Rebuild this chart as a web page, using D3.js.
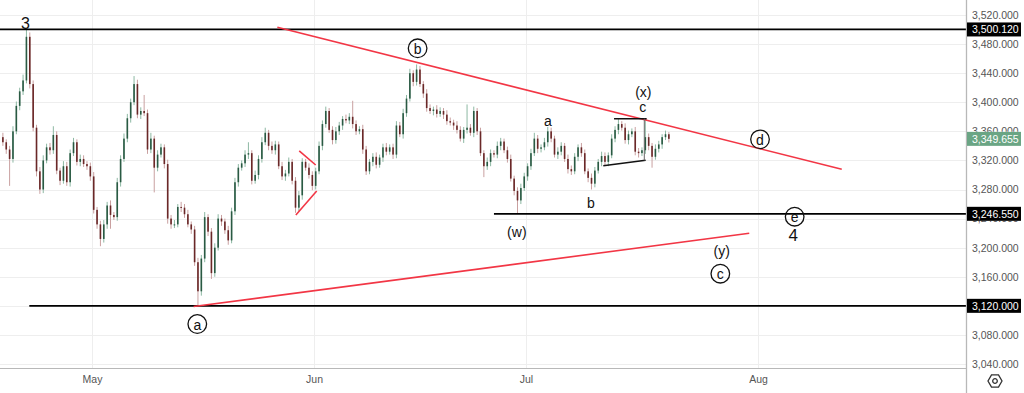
<!DOCTYPE html>
<html><head><meta charset="utf-8">
<script src="https://cdn.jsdelivr.net/npm/d3@7"></script>
<style>body{margin:0;background:#fff;overflow:hidden} svg{display:block}</style>
</head><body>
<svg id="chart" width="1024" height="393"></svg>
<script>
// ---------- DATA ----------
const firstOpen = 3352;
const closes = [
3345,3335,3322,3360,3395,3415,3430,3490,3425,3365,
3305,3280,3320,3338,3334,3355,3306,3292,3312,3290,
3330,3345,3318,3322,3315,3312,3298,3252,3232,3212,
3232,3258,3245,3242,3290,3322,3350,3378,3400,3425,
3383,3388,3385,3335,3350,3310,3328,3338,3315,3240,
3232,3232,3256,3255,3246,3232,3225,3180,3140,3185,
3242,3222,3165,3200,3240,3236,3224,3210,3250,3290,
3310,3316,3328,3330,3292,3300,3322,3345,3358,3340,
3334,3342,3312,3298,3302,3318,3292,3255,3272,3318,
3310,3300,3285,3305,3340,3370,3388,3362,3348,3360,
3368,3377,3375,3380,3370,3360,3363,3335,3305,3318,
3325,3314,3324,3338,3332,3338,3328,3368,3356,3385,
3405,3440,3428,3445,3425,3412,3392,3388,3390,3384,
3388,3383,3374,3372,3368,3362,3350,3362,3365,3358,
3388,3360,3330,3312,3318,3330,3328,3340,3346,3334,
3322,3295,3278,3265,3282,3298,3312,3330,3350,3336,
3338,3345,3360,3350,3328,3332,3340,3322,3308,3305,
3325,3338,3330,3305,3296,3288,3306,3318,3326,3318,
3327,3350,3362,3370,3365,3348,3356,3360,3332,3330,
3334,3352,3340,3325,3336,3342,3352,3356,3349.655
];
const upWick = [
6,4,5,7,6,5,8,10,6,5, 4,6,7,5,6,12,5,4,7,6, 5,6,4,6,5,4,5,6,4,5,
6,5,7,4,6,5,7,6,5,11, 6,5,22,5,8,4,6,5,4,6, 5,6,4,7,5,6,4,5,6,5,
7,4,5,6,6,5,4,6,5,6, 5,4,6,15,4,6,5,7,7,4, 6,5,4,6,5,6,4,5,6,5,
4,6,5,5,6,5,6,4,5,6, 5,4,6,5,22,5,4,6,5,4, 5,6,4,5,6,4,5,6,5,6,
5,6,4,7,5,4,6,5,4,6, 5,4,6,5,4,6,5,4,32,5, 6,4,5,4,6,5,4,6,5,4,
5,6,4,5,6,5,4,6,8,5, 4,6,6,5,4,6,5,4,6,5, 5,4,6,5,4,6,5,4,6,5,
4,6,5,7,4,6,5,4,6,5, 4,24,5,4,6,5,4,5,3
];
const downWick = [
5,6,37,5,4,6,5,4,6,5, 7,6,5,4,6,5,5,6,4,5, 6,4,5,6,4,5,6,5,6,10,
5,6,19,4,5,6,4,5,6,4, 5,6,4,6,5,34,5,4,6,7, 6,5,4,6,5,4,6,5,19,6,
5,6,8,5,4,6,5,6,4,5, 6,4,5,6,5,4,6,5,4,6, 5,6,4,5,6,4,5,7,5,6,
4,5,6,5,4,6,5,4,6,5, 5,6,4,5,6,5,4,6,5,4, 6,5,4,6,5,4,6,5,4,6,
5,4,6,5,4,6,5,4,6,5, 4,6,5,4,6,5,4,6,5,4, 6,5,4,15,5,6,4,5,6,4,
5,4,6,18,5,4,6,5,4,6, 5,4,6,5,4,6,5,4,6,5, 4,6,5,4,6,8,5,4,6,5,
6,4,5,6,4,5,6,4,5,6, 4,5,6,15,4,5,6,4,5
];
const monthLabels = ["May","Jun","Jul","Aug"];
const monthBars = [27, 93, 156, 225];
const priceTicks = [3040,3080,3120,3160,3200,3240,3280,3320,3360,3400,3440,3480,3520];
const levelPrices = [3500.12, 3246.55, 3120.0];
const levelStartBars = [-0.4, 146.5, 8.35];
const lastPrice = 3349.655;
// trend lines: [bar1, price1, bar2, price2]
const redLines = [
  [82.1, 3503.1, 249.9, 3307.8],
  [57.2, 3119.0, 222.4, 3219.8],
  [88.6, 3333.0, 93.5, 3313.7],
  [87.6, 3245.0, 93.8, 3278.0]
];
const blackLines = [
  [182.2, 3377.4, 191.9, 3377.4],
  [179.0, 3312.7, 191.6, 3320.2]
];
const greyLines = [[191.2, 3377.4, 191.2, 3320.0]];
const circleLabels = ["a","b","c","d","e"];
const circleBars = [58.3, 123.8, 213.8, 225.6, 235.9];
const circlePrices = [3095, 3474.2, 3164.2, 3349, 3242.6];
const textLabels = ["3","(x)","c","a","b","(w)","(y)","4"];
const textBars = [7.2, 190.9, 190.7, 162.5, 175.3, 153.3, 214.2, 235.5];
const textPrices = [3508.5, 3414.5, 3393, 3374.6, 3261.9, 3221.1, 3195.4, 3217.4];
const textSizes = [16, 14, 14, 14, 14, 14, 14, 17];

// ---------- LAYOUT ----------
const W = 1024, H = 393, plotR = 966, plotB = 368;
const svg = d3.select("#chart");
const x = d3.scaleLinear().domain([0, 225]).range([1.2, 758]);
const y = d3.scaleLinear().domain([3040, 3520]).range([364, 15]);
const font = "'Liberation Sans', Arial, sans-serif";
const fmt = d3.format(",.3f");

svg.append("rect").attr("width", W).attr("height", H).attr("fill", "#fff");
const defs = svg.append("defs");
defs.append("clipPath").attr("id", "clip")
  .append("rect").attr("x", 0).attr("y", 0).attr("width", plotR).attr("height", plotB);

// grid
const grid = svg.append("g");
grid.selectAll("line.h").data(priceTicks).join("line")
  .attr("x1", 0).attr("x2", plotR).attr("y1", d => Math.round(y(d)) + 0.5).attr("y2", d => Math.round(y(d)) + 0.5)
  .attr("stroke", "#eeeeee").attr("stroke-width", 1);
grid.selectAll("line.v").data(monthBars).join("line")
  .attr("y1", 0).attr("y2", plotB).attr("x1", d => Math.round(x(d)) + 0.5).attr("x2", d => Math.round(x(d)) + 0.5)
  .attr("stroke", "#eeeeee").attr("stroke-width", 1);

const plot = svg.append("g").attr("clip-path", "url(#clip)");

// candles
const bars = closes.map((c, i) => {
  const o = i === 0 ? firstOpen : closes[i - 1];
  return { i, o, c, h: Math.max(o, c) + upWick[i], l: Math.min(o, c) - downWick[i] };
});
const bw = x(1) - x(0);
const cg = plot.append("g");
cg.selectAll("line").data(bars).join("line")
  .attr("x1", d => x(d.i + 0.5)).attr("x2", d => x(d.i + 0.5))
  .attr("y1", d => y(d.h)).attr("y2", d => y(d.l))
  .attr("stroke", d => d.c >= d.o ? "#8db8a3" : "#c9a0a0").attr("stroke-width", 1);
cg.selectAll("rect").data(bars).join("rect")
  .attr("x", d => x(d.i + 0.5) - bw * 0.24).attr("width", bw * 0.48)
  .attr("y", d => y(Math.max(d.o, d.c)))
  .attr("height", d => Math.max(1, Math.abs(y(d.o) - y(d.c))))
  .attr("fill", d => d.c >= d.o ? "#2a5a43" : "#6a2828");

// horizontal levels
plot.selectAll("line.lvl").data(levelPrices).join("line")
  .attr("x1", (d, i) => x(levelStartBars[i])).attr("x2", plotR)
  .attr("y1", d => y(d)).attr("y2", d => y(d))
  .attr("stroke", "#000").attr("stroke-width", 1.8);

// trend lines
const seg = (g, data, color, w) => g.selectAll(null).data(data).join("line")
  .attr("x1", d => x(d[0])).attr("y1", d => y(d[1]))
  .attr("x2", d => x(d[2])).attr("y2", d => y(d[3]))
  .attr("stroke", color).attr("stroke-width", w);
seg(plot, redLines, "#f23645", 1.6);
seg(plot, blackLines, "#111", 1.5);
seg(plot, greyLines, "#666", 1);

// annotations
const ann = svg.append("g").attr("font-family", font).attr("fill", "#111");
ann.selectAll("circle").data(circleLabels).join("circle")
  .attr("cx", (d, i) => x(circleBars[i])).attr("cy", (d, i) => y(circlePrices[i]))
  .attr("r", 9.3).attr("fill", "none").attr("stroke", "#111").attr("stroke-width", 1.3);
ann.selectAll("text.cl").data(circleLabels).join("text")
  .attr("x", (d, i) => x(circleBars[i])).attr("y", (d, i) => y(circlePrices[i]) + 0.5)
  .attr("text-anchor", "middle").attr("dominant-baseline", "central")
  .attr("font-size", 14).text(d => d);
ann.selectAll("text.tl").data(textLabels).join("text")
  .attr("x", (d, i) => x(textBars[i])).attr("y", (d, i) => y(textPrices[i]))
  .attr("text-anchor", "middle").attr("dominant-baseline", "central")
  .attr("font-size", (d, i) => textSizes[i]).text(d => d);

// axes lines
svg.append("line").attr("x1", 0).attr("x2", plotR).attr("y1", plotB + 0.5).attr("y2", plotB + 0.5)
  .attr("stroke", "#b8b8b8").attr("stroke-width", 1);
svg.append("line").attr("x1", plotR + 0.5).attr("x2", plotR + 0.5).attr("y1", 0).attr("y2", H)
  .attr("stroke", "#b8b8b8").attr("stroke-width", 1.3);

// price badges data
const badges = levelPrices.map(p => ({ p, bg: "#000" })).concat([{ p: lastPrice, bg: "#6aa584" }]);
const bh = 14;

// clip for y tick labels: the axis column minus badge bands (labels stay partly hidden as in the original)
const bands = badges.map(b => [y(b.p) - bh / 2, y(b.p) + bh / 2]).sort((a, b) => a[0] - b[0]);
const gaps = [];
let gapTop = 0;
bands.forEach(b => { gaps.push([gapTop, b[0]]); gapTop = b[1]; });
gaps.push([gapTop, H]);
defs.append("clipPath").attr("id", "tickclip").selectAll("rect").data(gaps).join("rect")
  .attr("x", plotR - 10).attr("width", W - plotR + 10).attr("y", d => d[0]).attr("height", d => Math.max(0, d[1] - d[0]));

// y axis
const yAxis = d3.axisRight(y).tickValues(priceTicks).tickFormat(fmt).tickSize(0).tickPadding(6);
const ya = svg.append("g").attr("clip-path", "url(#tickclip)")
  .append("g").attr("transform", `translate(${plotR},0)`).call(yAxis);
ya.select(".domain").remove();
ya.selectAll("text").attr("font-family", font).attr("font-size", 10.5).attr("fill", "#555");

// x axis
const xAxis = d3.axisBottom(x).tickValues(monthBars).tickFormat((d, i) => monthLabels[i]).tickSize(0).tickPadding(8);
const xa = svg.append("g").attr("transform", `translate(0,${plotB})`).call(xAxis);
xa.select(".domain").remove();
xa.selectAll("text").attr("font-family", font).attr("font-size", 10.5).attr("fill", "#555");

// price badges
const bg = svg.append("g");
bg.selectAll("rect").data(badges).join("rect")
  .attr("x", plotR + 1).attr("width", 54).attr("y", d => y(d.p) - bh / 2).attr("height", bh)
  .attr("fill", d => d.bg);
bg.selectAll("text").data(badges).join("text")
  .attr("x", plotR + 6).attr("y", d => y(d.p)).attr("dominant-baseline", "central")
  .attr("font-family", font).attr("font-size", 10.5).attr("fill", "#fff")
  .text(d => fmt(d.p));

// settings icon
const ic = svg.append("g").attr("transform", "translate(995,381)");
const hex = d3.range(6).map(k => [7 * Math.cos(Math.PI / 3 * k), 7 * Math.sin(Math.PI / 3 * k)]);
ic.append("path").attr("d", d3.line()(hex) + "Z").attr("fill", "none").attr("stroke", "#333").attr("stroke-width", 1.3);
ic.append("circle").attr("r", 2.3).attr("fill", "none").attr("stroke", "#333").attr("stroke-width", 1.3);
</script>
</body></html>
